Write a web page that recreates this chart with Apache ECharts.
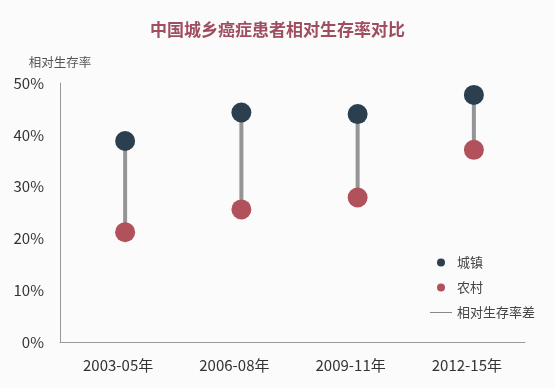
<!DOCTYPE html>
<html><head><meta charset="utf-8">
<script src="https://cdn.jsdelivr.net/npm/echarts@6/dist/echarts.min.js"></script>
<style>html,body{margin:0;padding:0;background:#fcfbfc}#c{width:555px;height:388px}</style>
</head><body><div id="c"></div>
<script>
const categories = ['2003-05年', '2006-08年', '2009-11年', '2012-15年'];
const urban = [38.8, 44.3, 44.0, 47.7];
const rural = [21.2, 25.6, 27.9, 37.1];
const yTicks = [0, 10, 20, 30, 40, 50];
const titleText = '中国城乡癌症患者相对生存率对比';
const yName = '相对生存率';
const names = ['城镇', '农村', '相对生存率差'];

const chart = echarts.init(document.getElementById('c'));
const font = 'Noto Sans CJK SC, sans-serif';
chart.setOption({
  backgroundColor: '#fcfbfc',
  title: { text: titleText, left: 'center', top: 16,
    textStyle: { color: '#a04d60', fontSize: 17, fontWeight: 'bold', fontFamily: font } },
  legend: {
    orient: 'vertical', left: 425, top: 251, itemWidth: 22, itemHeight: 8, itemGap: 12,
    textStyle: { color: '#444', fontSize: 13, fontFamily: font },
    data: [
      { name: names[0], icon: 'circle' },
      { name: names[1], icon: 'circle' },
      { name: names[2], icon: 'path://M0,0 L22,0 L22,1 L0,1 Z', itemStyle: { color: '#888' } }
    ]
  },
  grid: [
    { left: 67, right: 23, top: 83, bottom: 46 },
    { left: 60, right: 30, top: 83, bottom: 46 }
  ],
  xAxis: [
    { type: 'category', gridIndex: 0, data: categories, show: false },
    { type: 'category', gridIndex: 1, data: categories,
      axisLine: { lineStyle: { color: '#999', width: 1 } }, axisTick: { show: false },
      axisLabel: { color: '#333', fontSize: 15, margin: 16, fontFamily: font } }
  ],
  yAxis: [
    { type: 'value', gridIndex: 0, min: 0, max: 50, show: false },
    { type: 'value', gridIndex: 1, min: 0, max: 50, interval: 10,
      name: yName, nameLocation: 'end', nameGap: 14,
      nameTextStyle: { color: '#555', fontSize: 12.5, align: 'center', padding: [0, 0, 0, 0], fontFamily: font },
      axisLine: { show: true, lineStyle: { color: '#999', width: 1 } }, axisTick: { show: false },
      splitLine: { show: false },
      axisLabel: { color: '#333', fontSize: 15, margin: 16, formatter: '{value}%', fontFamily: font } }
  ],
  series: [
    { name: names[2], type: 'custom', xAxisIndex: 0, yAxisIndex: 0, z: 1,
      itemStyle: { color: '#888' },
      data: categories.map((c, i) => [i, rural[i], urban[i]]),
      renderItem: function (params, api) {
        const a = api.coord([api.value(0), api.value(1)]);
        const b = api.coord([api.value(0), api.value(2)]);
        return { type: 'line', shape: { x1: a[0], y1: a[1], x2: b[0], y2: b[1] },
          style: { stroke: '#959595', lineWidth: 4 } };
      }
    },
    { name: names[0], type: 'scatter', xAxisIndex: 0, yAxisIndex: 0, z: 3,
      symbolSize: 20, itemStyle: { color: '#2b3f4f', opacity: 1 }, data: urban },
    { name: names[1], type: 'scatter', xAxisIndex: 0, yAxisIndex: 0, z: 3,
      symbolSize: 20, itemStyle: { color: '#b0515b', opacity: 1 }, data: rural }
  ]
});
</script></body></html>
